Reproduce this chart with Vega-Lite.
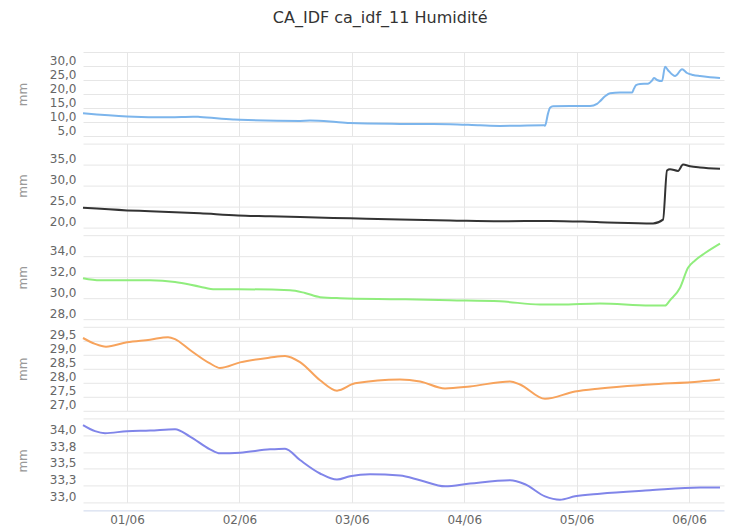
{
  "$schema": "https://vega.github.io/schema/vega-lite/v6.json",
  "background": "white",
  "padding": {"left": 16, "top": 10, "right": 17, "bottom": 0},
  "title": {"text": "CA_IDF ca_idf_11 Humidité", "font": "DejaVu Sans", "fontSize": 16, "fontWeight": "normal", "color": "#333333", "offset": 26, "anchor": "middle", "frame": "bounds", "dx": 10},
  "spacing": 7.6,
  "bounds": "flush",
  "datasets": {
    "p1": [
      {"t": "2024-05-31T14:36", "v": 13.1},
      {"t": "2024-06-01T00:00", "v": 12.0},
      {"t": "2024-06-01T09:11", "v": 11.7},
      {"t": "2024-06-01T14:05", "v": 11.9},
      {"t": "2024-06-01T15:35", "v": 11.8},
      {"t": "2024-06-01T22:38", "v": 10.9},
      {"t": "2024-06-02T00:08", "v": 10.8},
      {"t": "2024-06-02T12:56", "v": 10.4},
      {"t": "2024-06-02T15:04", "v": 10.5},
      {"t": "2024-06-02T19:21", "v": 10.2},
      {"t": "2024-06-02T23:37", "v": 9.6},
      {"t": "2024-06-03T10:17", "v": 9.3},
      {"t": "2024-06-03T20:58", "v": 9.2},
      {"t": "2024-06-04T03:22", "v": 8.8},
      {"t": "2024-06-04T07:38", "v": 8.6},
      {"t": "2024-06-04T11:55", "v": 8.7},
      {"t": "2024-06-04T17:02", "v": 8.8},
      {"t": "2024-06-04T17:15", "v": 8.7},
      {"t": "2024-06-04T17:53", "v": 13.0},
      {"t": "2024-06-04T18:19", "v": 15.1},
      {"t": "2024-06-04T18:58", "v": 15.6},
      {"t": "2024-06-04T22:35", "v": 15.7},
      {"t": "2024-06-05T02:52", "v": 15.7},
      {"t": "2024-06-05T04:21", "v": 16.5},
      {"t": "2024-06-05T04:59", "v": 17.4},
      {"t": "2024-06-05T06:04", "v": 19.2},
      {"t": "2024-06-05T07:08", "v": 20.3},
      {"t": "2024-06-05T09:16", "v": 20.5},
      {"t": "2024-06-05T11:50", "v": 20.5},
      {"t": "2024-06-05T12:16", "v": 22.0},
      {"t": "2024-06-05T12:41", "v": 23.2},
      {"t": "2024-06-05T13:32", "v": 23.6},
      {"t": "2024-06-05T15:14", "v": 23.7},
      {"t": "2024-06-05T16:06", "v": 24.8},
      {"t": "2024-06-05T16:31", "v": 25.7},
      {"t": "2024-06-05T17:10", "v": 25.0},
      {"t": "2024-06-05T18:14", "v": 24.6},
      {"t": "2024-06-05T18:53", "v": 29.7},
      {"t": "2024-06-05T19:31", "v": 28.5},
      {"t": "2024-06-05T21:01", "v": 26.4},
      {"t": "2024-06-05T22:31", "v": 28.8},
      {"t": "2024-06-05T23:34", "v": 27.5},
      {"t": "2024-06-06T00:51", "v": 26.8},
      {"t": "2024-06-06T02:21", "v": 26.4},
      {"t": "2024-06-06T04:29", "v": 26.0},
      {"t": "2024-06-06T06:37", "v": 25.7}
    ],
    "p2": [
      {"t": "2024-05-31T14:36", "v": 24.7},
      {"t": "2024-06-01T00:00", "v": 24.1},
      {"t": "2024-06-01T04:55", "v": 23.9},
      {"t": "2024-06-01T15:35", "v": 23.4},
      {"t": "2024-06-01T23:42", "v": 22.9},
      {"t": "2024-06-02T06:32", "v": 22.7},
      {"t": "2024-06-02T12:56", "v": 22.5},
      {"t": "2024-06-02T23:37", "v": 22.2},
      {"t": "2024-06-03T10:17", "v": 21.9},
      {"t": "2024-06-03T20:58", "v": 21.7},
      {"t": "2024-06-04T07:38", "v": 21.5},
      {"t": "2024-06-04T18:19", "v": 21.6},
      {"t": "2024-06-05T04:59", "v": 21.3},
      {"t": "2024-06-05T16:19", "v": 21.0},
      {"t": "2024-06-05T18:27", "v": 21.9},
      {"t": "2024-06-05T19:18", "v": 33.6},
      {"t": "2024-06-05T19:56", "v": 33.9},
      {"t": "2024-06-05T21:39", "v": 33.5},
      {"t": "2024-06-05T22:43", "v": 35.0},
      {"t": "2024-06-06T00:13", "v": 34.6},
      {"t": "2024-06-06T02:21", "v": 34.3},
      {"t": "2024-06-06T06:37", "v": 34.0}
    ],
    "p3": [
      {"t": "2024-05-31T14:36", "v": 31.9},
      {"t": "2024-05-31T18:14", "v": 31.7},
      {"t": "2024-06-01T00:00", "v": 31.7},
      {"t": "2024-06-01T04:55", "v": 31.7},
      {"t": "2024-06-01T10:15", "v": 31.55},
      {"t": "2024-06-01T15:35", "v": 31.1},
      {"t": "2024-06-01T18:47", "v": 30.85},
      {"t": "2024-06-01T23:42", "v": 30.85},
      {"t": "2024-06-02T10:48", "v": 30.76},
      {"t": "2024-06-02T14:00", "v": 30.5},
      {"t": "2024-06-02T17:13", "v": 30.1},
      {"t": "2024-06-02T21:29", "v": 30.0},
      {"t": "2024-06-03T10:17", "v": 29.9},
      {"t": "2024-06-03T20:58", "v": 29.8},
      {"t": "2024-06-04T07:38", "v": 29.7},
      {"t": "2024-06-04T16:11", "v": 29.4},
      {"t": "2024-06-04T20:27", "v": 29.4},
      {"t": "2024-06-05T04:59", "v": 29.5},
      {"t": "2024-06-05T15:40", "v": 29.3},
      {"t": "2024-06-05T18:53", "v": 29.3},
      {"t": "2024-06-05T19:56", "v": 29.8},
      {"t": "2024-06-05T22:05", "v": 31.0},
      {"t": "2024-06-05T23:47", "v": 32.9},
      {"t": "2024-06-06T01:17", "v": 33.6},
      {"t": "2024-06-06T03:25", "v": 34.3},
      {"t": "2024-06-06T06:37", "v": 35.2}
    ],
    "p4": [
      {"t": "2024-05-31T14:36", "v": 29.6},
      {"t": "2024-05-31T17:10", "v": 29.39},
      {"t": "2024-05-31T19:31", "v": 29.29},
      {"t": "2024-06-01T00:00", "v": 29.45},
      {"t": "2024-06-01T04:55", "v": 29.54},
      {"t": "2024-06-01T08:45", "v": 29.63},
      {"t": "2024-06-01T10:15", "v": 29.56},
      {"t": "2024-06-01T13:27", "v": 29.17},
      {"t": "2024-06-01T17:43", "v": 28.69},
      {"t": "2024-06-01T19:51", "v": 28.53},
      {"t": "2024-06-02T00:08", "v": 28.73},
      {"t": "2024-06-02T06:32", "v": 28.9},
      {"t": "2024-06-02T09:44", "v": 28.96},
      {"t": "2024-06-02T12:56", "v": 28.74},
      {"t": "2024-06-02T17:13", "v": 28.09},
      {"t": "2024-06-02T20:50", "v": 27.72},
      {"t": "2024-06-03T00:41", "v": 27.98},
      {"t": "2024-06-03T10:17", "v": 28.12},
      {"t": "2024-06-03T14:34", "v": 28.05},
      {"t": "2024-06-03T19:54", "v": 27.8},
      {"t": "2024-06-04T01:14", "v": 27.87},
      {"t": "2024-06-04T09:47", "v": 28.05},
      {"t": "2024-06-04T11:55", "v": 27.94},
      {"t": "2024-06-04T17:15", "v": 27.43},
      {"t": "2024-06-04T23:39", "v": 27.69},
      {"t": "2024-06-05T04:59", "v": 27.8},
      {"t": "2024-06-05T15:40", "v": 27.94},
      {"t": "2024-06-06T02:21", "v": 28.05},
      {"t": "2024-06-06T06:37", "v": 28.12}
    ],
    "p5": [
      {"t": "2024-05-31T14:36", "v": 34.15},
      {"t": "2024-05-31T17:10", "v": 34.06},
      {"t": "2024-05-31T19:18", "v": 34.03},
      {"t": "2024-06-01T00:00", "v": 34.06},
      {"t": "2024-06-01T04:55", "v": 34.07},
      {"t": "2024-06-01T10:15", "v": 34.09},
      {"t": "2024-06-01T13:27", "v": 33.98},
      {"t": "2024-06-01T17:43", "v": 33.79},
      {"t": "2024-06-01T19:51", "v": 33.73},
      {"t": "2024-06-02T00:08", "v": 33.74},
      {"t": "2024-06-02T06:32", "v": 33.79},
      {"t": "2024-06-02T09:44", "v": 33.8},
      {"t": "2024-06-02T12:56", "v": 33.63},
      {"t": "2024-06-02T17:13", "v": 33.43},
      {"t": "2024-06-02T20:50", "v": 33.34},
      {"t": "2024-06-02T23:37", "v": 33.39},
      {"t": "2024-06-03T03:53", "v": 33.42},
      {"t": "2024-06-03T10:17", "v": 33.4},
      {"t": "2024-06-03T14:34", "v": 33.33},
      {"t": "2024-06-03T19:54", "v": 33.24},
      {"t": "2024-06-04T01:14", "v": 33.28},
      {"t": "2024-06-04T09:47", "v": 33.33},
      {"t": "2024-06-04T12:59", "v": 33.27},
      {"t": "2024-06-04T17:15", "v": 33.09},
      {"t": "2024-06-04T20:27", "v": 33.04},
      {"t": "2024-06-04T23:39", "v": 33.09},
      {"t": "2024-06-05T04:59", "v": 33.13},
      {"t": "2024-06-05T15:40", "v": 33.18},
      {"t": "2024-06-06T02:21", "v": 33.22},
      {"t": "2024-06-06T06:37", "v": 33.22}
    ]
  },
  "vconcat": [
    {
      "width": 641, "height": 84,
      "data": {"name": "p1"},
      "mark": {"type": "line", "color": "#7cb5ec", "strokeWidth": 2, "interpolate": "monotone"},
      "encoding": {
        "x": {"field": "t", "type": "temporal",
          "scale": {"domain": [{"year": 2024, "month": 5, "date": 31, "hours": 14, "minutes": 36}, {"year": 2024, "month": 6, "date": 6, "hours": 7, "minutes": 28}]},
          "axis": {"values": [{"year": 2024, "month": 6, "date": 1}, {"year": 2024, "month": 6, "date": 2}, {"year": 2024, "month": 6, "date": 3}, {"year": 2024, "month": 6, "date": 4}, {"year": 2024, "month": 6, "date": 5}, {"year": 2024, "month": 6, "date": 6}]}},
        "y": {"field": "v", "type": "quantitative", "scale": {"domain": [5, 35], "nice": false, "zero": false},
          "axis": {"title": "mm", "values": [5, 10, 15, 20, 25, 30, 35], "labelExpr": "datum.value >= 35 ? '' : replace(format(datum.value, '.1f'), '.', ',')"}}
      }
    },
    {
      "width": 641, "height": 84,
      "data": {"name": "p2"},
      "mark": {"type": "line", "color": "#333333", "strokeWidth": 2, "interpolate": "monotone"},
      "encoding": {
        "x": {"field": "t", "type": "temporal",
          "scale": {"domain": [{"year": 2024, "month": 5, "date": 31, "hours": 14, "minutes": 36}, {"year": 2024, "month": 6, "date": 6, "hours": 7, "minutes": 28}]},
          "axis": {"values": [{"year": 2024, "month": 6, "date": 1}, {"year": 2024, "month": 6, "date": 2}, {"year": 2024, "month": 6, "date": 3}, {"year": 2024, "month": 6, "date": 4}, {"year": 2024, "month": 6, "date": 5}, {"year": 2024, "month": 6, "date": 6}]}},
        "y": {"field": "v", "type": "quantitative", "scale": {"domain": [20, 40], "nice": false, "zero": false},
          "axis": {"title": "mm", "values": [20, 25, 30, 35, 40], "labelExpr": "datum.value >= 40 ? '' : replace(format(datum.value, '.1f'), '.', ',')"}}
      }
    },
    {
      "width": 641, "height": 84,
      "data": {"name": "p3"},
      "mark": {"type": "line", "color": "#90ed7d", "strokeWidth": 2, "interpolate": "monotone"},
      "encoding": {
        "x": {"field": "t", "type": "temporal",
          "scale": {"domain": [{"year": 2024, "month": 5, "date": 31, "hours": 14, "minutes": 36}, {"year": 2024, "month": 6, "date": 6, "hours": 7, "minutes": 28}]},
          "axis": {"values": [{"year": 2024, "month": 6, "date": 1}, {"year": 2024, "month": 6, "date": 2}, {"year": 2024, "month": 6, "date": 3}, {"year": 2024, "month": 6, "date": 4}, {"year": 2024, "month": 6, "date": 5}, {"year": 2024, "month": 6, "date": 6}]}},
        "y": {"field": "v", "type": "quantitative", "scale": {"domain": [28, 36], "nice": false, "zero": false},
          "axis": {"title": "mm", "values": [28, 30, 32, 34, 36], "labelExpr": "datum.value >= 36 ? '' : replace(format(datum.value, '.1f'), '.', ',')"}}
      }
    },
    {
      "width": 641, "height": 84,
      "data": {"name": "p4"},
      "mark": {"type": "line", "color": "#f7a35c", "strokeWidth": 2, "interpolate": "monotone"},
      "encoding": {
        "x": {"field": "t", "type": "temporal",
          "scale": {"domain": [{"year": 2024, "month": 5, "date": 31, "hours": 14, "minutes": 36}, {"year": 2024, "month": 6, "date": 6, "hours": 7, "minutes": 28}]},
          "axis": {"values": [{"year": 2024, "month": 6, "date": 1}, {"year": 2024, "month": 6, "date": 2}, {"year": 2024, "month": 6, "date": 3}, {"year": 2024, "month": 6, "date": 4}, {"year": 2024, "month": 6, "date": 5}, {"year": 2024, "month": 6, "date": 6}]}},
        "y": {"field": "v", "type": "quantitative", "scale": {"domain": [27, 30], "nice": false, "zero": false},
          "axis": {"title": "mm", "values": [27, 27.5, 28, 28.5, 29, 29.5, 30], "labelExpr": "datum.value >= 30 ? '' : replace(format(datum.value, '.1f'), '.', ',')"}}
      }
    },
    {
      "width": 641, "height": 84,
      "data": {"name": "p5"},
      "mark": {"type": "line", "color": "#8085e9", "strokeWidth": 2, "interpolate": "monotone"},
      "encoding": {
        "x": {"field": "t", "type": "temporal",
          "scale": {"domain": [{"year": 2024, "month": 5, "date": 31, "hours": 14, "minutes": 36}, {"year": 2024, "month": 6, "date": 6, "hours": 7, "minutes": 28}]},
          "axis": {"values": [{"year": 2024, "month": 6, "date": 1}, {"year": 2024, "month": 6, "date": 2}, {"year": 2024, "month": 6, "date": 3}, {"year": 2024, "month": 6, "date": 4}, {"year": 2024, "month": 6, "date": 5}, {"year": 2024, "month": 6, "date": 6}],
            "labels": true, "format": "%d/%m", "domain": true, "domainColor": "#ccd6eb", "offset": 8, "labelPadding": 4}},
        "y": {"field": "v", "type": "quantitative", "scale": {"domain": [33, 34.25], "nice": false, "zero": false},
          "axis": {"title": "mm", "values": [33, 33.25, 33.5, 33.75, 34, 34.25], "labelExpr": "datum.value >= 34.2 ? '' : replace(format(datum.value, '.1f'), '.', ',')"}}
      }
    }
  ],
  "config": {
    "font": "DejaVu Sans",
    "view": {"stroke": null},
    "axis": {"gridColor": "#e6e6e6", "gridWidth": 1, "labelColor": "#666666", "labelFontSize": 12, "labelFont": "DejaVu Sans", "titleFont": "DejaVu Sans"},
    "axisY": {"domain": false, "ticks": false, "labelPadding": 7, "labelOffset": -6, "titleColor": "#999999", "titleFontWeight": "normal", "titleFontSize": 12, "titlePadding": 20},
    "axisX": {"ticks": false, "domain": false, "labels": false, "title": null, "grid": true}
  }
}
